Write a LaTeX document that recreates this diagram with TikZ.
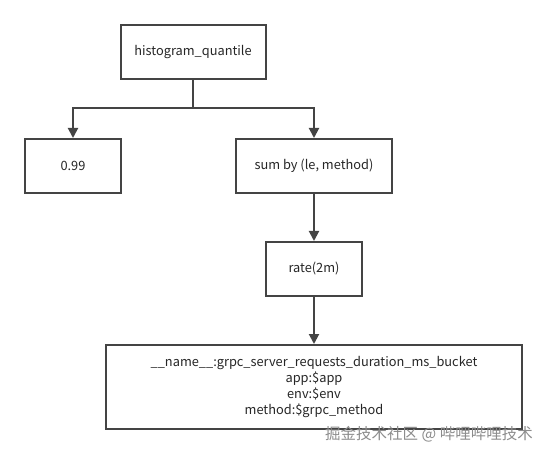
\documentclass[tikz,border=0pt]{standalone}
\usepackage{fontspec}
\setmainfont{Noto Sans CJK SC}
\usetikzlibrary{arrows.meta}
\definecolor{ln}{HTML}{444444}
\tikzset{
  box/.style={draw=ln, line width=2pt, fill=white, inner sep=0pt, font=\fontsize{12.8}{16}\selectfont, text=black!85, align=center},
  conn/.style={draw=ln, line width=2pt, -{Triangle[length=10pt,width=10pt]}},
  linkline/.style={draw=ln, line width=2pt}
}
\begin{document}
\begin{tikzpicture}[x=1pt,y=-1pt]
\useasboundingbox (0,0) rectangle (546,454);
\node[box, minimum width=145pt, minimum height=54pt] (hq) at (193,52) {histogram\_quantile};
\node[box, minimum width=96pt, minimum height=54pt] (q) at (73,166) {0.99};
\node[box, minimum width=156pt, minimum height=54pt] (sum) at (314,166) {sum by (le, method)};
\node[box, minimum width=96pt, minimum height=54pt] (rate) at (314,269) {rate(2m)};
\node[box, minimum width=416pt, minimum height=84pt] (sel) at (314,387) {\_\_name\_\_:grpc\_server\_requests\_duration\_ms\_bucket\\app:\$app\\env:\$env\\method:\$grpc\_method};
\coordinate (j) at (hq.south |- 0,108);
\coordinate (jl) at (q.north |- 0,108);
\coordinate (jr) at (sum.north |- 0,108);
\draw[linkline] (hq.south) -- (j);
\draw[linkline, line cap=rect] (jl) -- (jr);
\draw[conn] (jl) -- (q.north);
\draw[conn] (jr) -- (sum.north);
\draw[conn] (sum.south) -- (rate.north);
\draw[conn] (rate.south) -- (sel.north);
\node[font=\fontsize{15.5}{18}\selectfont, text=black!45, anchor=east, inner sep=0pt] (wm) at (533,434) {掘金技术社区 @ 哔哩哔哩技术};
\end{tikzpicture}
\end{document}
